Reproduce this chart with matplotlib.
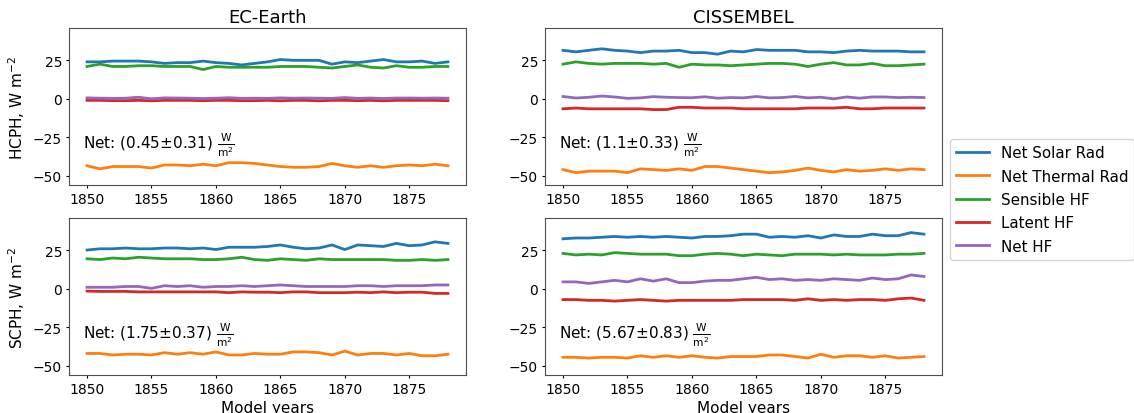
import matplotlib
matplotlib.use("Agg")
import matplotlib.pyplot as plt

years = list(range(1850, 1879))
series_names = ["Net Solar Rad", "Net Thermal Rad", "Sensible HF", "Latent HF", "Net HF"]
models = ["EC-Earth", "CISSEMBEL"]
regions = ["HCPH", "SCPH"]
x_ticks = [1850, 1855, 1860, 1865, 1870, 1875]
y_ticks = [-50, -25, 0, 25]

# EC-Earth, HCPH
ec_hcph_solar = [24, 24, 24.5, 24.5, 24.5, 24, 23, 23.5, 23.5, 24.5, 23.5, 23, 22, 23, 24, 25.5, 25, 25, 25, 22.5, 24, 23.5, 24.5, 25.5, 24, 24, 24.5, 23, 24]
ec_hcph_thermal = [-43.5, -45.5, -44, -44, -44, -45, -43, -43, -43.5, -42.5, -43.5, -41.5, -41.5, -42, -43, -44, -44.5, -44.5, -44, -42, -43.5, -44.5, -43.5, -44.5, -43.5, -43, -43.5, -42.5, -43.5]
ec_hcph_sensible = [21, 22.5, 21, 21, 21.5, 21.5, 21, 21, 21, 19, 21, 20.5, 20.5, 20.5, 20.5, 21, 21, 21, 20.5, 20, 21, 22, 20.5, 20, 21.5, 20.5, 20.5, 21, 21]
ec_hcph_latent = [-1, -1, -1.2, -1.2, -1, -1.3, -1, -1, -1, -1.2, -1, -1, -1.2, -1.2, -1, -1.3, -1, -1, -1.3, -1, -1, -1.2, -1, -1.3, -1, -1, -1, -1, -1.2]
ec_hcph_net = [0.6, 0.4, 0.3, 0.4, 1.0, 0.0, 0.6, 0.5, 0.4, 0.2, 0.4, 0.7, 0.3, 0.4, 0.3, 0.6, 0.4, 0.5, 0.4, 0.3, 0.8, 0.3, 0.5, 0.2, 0.5, 0.5, 0.4, 0.5, 0.4]

# CISSEMBEL, HCPH
ci_hcph_solar = [31.5, 30.5, 31.5, 32.5, 31.5, 31, 30, 31, 31, 31.5, 30, 30, 29, 31, 30.5, 32, 31.5, 31.5, 31.5, 30.5, 30.5, 30, 31, 31.5, 31, 31, 31, 30.5, 30.5]
ci_hcph_thermal = [-46, -48, -47, -47, -47, -48, -45.5, -46, -46.5, -45.5, -46.5, -44, -44, -45, -46, -47, -48, -47.5, -46.5, -45, -46.5, -47.5, -46, -47, -46.5, -45.5, -46.5, -45.5, -46]
ci_hcph_sensible = [22.5, 24, 23, 22.5, 23, 23, 23, 22.5, 23, 20.5, 22.5, 22, 22, 21.5, 22, 22.5, 23, 23, 22.5, 21, 22.5, 23.5, 22, 22, 23, 21.5, 21.5, 22, 22.5]
ci_hcph_latent = [-6.5, -6, -6.5, -6.5, -6.5, -6.5, -6.5, -7, -7, -5.5, -5.5, -6, -6, -6, -6.5, -6.5, -6.5, -6.5, -6.5, -6, -6, -6, -5.5, -6.5, -6.5, -6, -6, -6, -6]
ci_hcph_net = [1.5, 0.5, 1, 1.8, 1.2, 0.3, 0.6, 1.4, 1, 0.8, 0.7, 1.3, 0.4, 0.8, 0.6, 1.5, 0.6, 0.8, 1.5, 0.6, 1, 0, 1.2, 0.4, 1.2, 1.2, 0.8, 1, 0.8]

# EC-Earth, SCPH
ec_scph_solar = [25.2, 26, 26, 26.5, 26, 26, 26.5, 26.5, 26, 26.5, 25.5, 27, 27, 27, 27.5, 28.5, 27, 26, 26.5, 28.5, 25.5, 28.5, 28, 27.5, 29.5, 28, 28.5, 30.5, 29.5]
ec_scph_thermal = [-42, -42, -43, -42.5, -42.5, -43, -41.5, -42.5, -41.5, -42.5, -41, -43, -43, -42, -42.5, -42.5, -41, -41, -41.5, -43, -40.5, -43, -42, -42, -43, -42, -43.5, -43.5, -42.5]
ec_scph_sensible = [19.5, 19, 20, 19.5, 20.5, 20, 19.5, 19.5, 19.5, 19, 19, 19.5, 20.5, 19, 18.5, 19.5, 19, 18.5, 19.5, 19, 19, 19, 19, 19, 18.5, 18.5, 19, 18.5, 19]
ec_scph_latent = [-1.5, -1.7, -1.7, -1.7, -2, -2, -2, -2, -2, -2, -2, -2.5, -2, -2.2, -2.2, -2.5, -2, -2, -2.5, -2.5, -2.5, -2.2, -2.5, -2, -2.5, -2.2, -2.2, -3, -3]
ec_scph_net = [1, 1, 1, 1.5, 1.5, 0.3, 2, 1.5, 2, 1, 1.5, 1.5, 2, 1.5, 2, 2.5, 2, 1.5, 1.5, 1.5, 1.5, 2, 2, 1.5, 2, 2, 2, 2.5, 2.5]

# CISSEMBEL, SCPH
ci_scph_solar = [32.5, 33, 33, 33.5, 34, 33.5, 34, 33.5, 34, 33.5, 33, 34, 34, 34.5, 35.5, 35.5, 33.5, 34, 33.5, 34.5, 33, 35, 34, 34, 35.5, 34.5, 34.5, 36.5, 35.5]
ci_scph_thermal = [-44.5, -44.5, -45, -44.5, -44.5, -45, -43.5, -44.5, -43.5, -44.5, -43.5, -44.5, -45, -44, -44, -44, -43, -43, -44, -45, -42.5, -44.5, -43.5, -43.5, -44.5, -43.5, -45, -44.5, -44]
ci_scph_sensible = [23, 22, 22.5, 22, 23.5, 23, 22.5, 22.5, 22.5, 21.5, 21.5, 22.5, 23, 22.5, 21.5, 22.5, 22, 21.5, 22.5, 22.5, 22.5, 22, 22.5, 22, 22, 22, 22.5, 22.5, 23]
ci_scph_latent = [-7, -7, -7.5, -7.5, -8, -7.5, -7, -7.5, -8, -7.5, -7.5, -7.5, -7.5, -7.5, -7, -7, -7, -7, -7.5, -6.5, -7.5, -7, -7.5, -7, -7, -7.5, -6.5, -6, -7.5]
ci_scph_net = [4.5, 4.5, 3.5, 4.5, 5.5, 4.5, 6.5, 5, 6.5, 4, 4, 5, 5.5, 5.5, 6.5, 7.5, 6, 6.5, 5.5, 6, 5.5, 6.5, 6, 5.5, 7, 6, 6.5, 9, 8]

net_means = [["0.45", "1.1"], ["1.75", "5.67"]]
net_stds = [["0.31", "0.33"], ["0.37", "0.83"]]

panels = [
    [[ec_hcph_solar, ec_hcph_thermal, ec_hcph_sensible, ec_hcph_latent, ec_hcph_net],
     [ci_hcph_solar, ci_hcph_thermal, ci_hcph_sensible, ci_hcph_latent, ci_hcph_net]],
    [[ec_scph_solar, ec_scph_thermal, ec_scph_sensible, ec_scph_latent, ec_scph_net],
     [ci_scph_solar, ci_scph_thermal, ci_scph_sensible, ci_scph_latent, ci_scph_net]],
]
colors = ["#1f77b4", "#ff7f0e", "#2ca02c", "#d62728", "#9467bd"]

fig = plt.figure(figsize=(11.34, 4.14), dpi=100)
lefts = [69 / 1134, 545 / 1134]
width = 397 / 1134
bottoms = [1 - 186 / 414, 1 - 376 / 414]
height = 157 / 414

handles = []
for r in range(2):
    for c in range(2):
        ax = fig.add_axes([lefts[c], bottoms[r], width, height])
        for k in range(5):
            ln, = ax.plot(years, panels[r][c][k], color=colors[k], lw=2, label=series_names[k])
            if r == 0 and c == 0:
                handles.append(ln)
        ax.set_ylim(-56, 46)
        ax.set_yticks(y_ticks)
        ax.set_xticks(x_ticks)
        ax.tick_params(labelsize=10, length=2.5, pad=2.5)
        for sp in ax.spines.values():
            sp.set_edgecolor("0.3")
        if r == 0:
            ax.set_title(models[c], fontsize=13, pad=4)
        else:
            ax.set_xlabel("Model years", fontsize=11, labelpad=2.9)
        if c == 0:
            ax.set_ylabel(regions[r] + r", W m$^{-2}$", fontsize=11)
        ax.text(0.035, 0.261,
                "Net: (" + net_means[r][c] + r"$\pm$" + net_stds[r][c] + r") $\frac{\mathrm{W}}{\mathrm{m}^2}$",
                transform=ax.transAxes, fontsize=11, va="center", ha="left")

fig.legend(handles=handles, loc="center left", bbox_to_anchor=(950 / 1134, 1 - 200.5 / 414),
           borderaxespad=0, fontsize=10.9, labelspacing=0.55, handlelength=2.15)
fig.savefig("out.png", dpi=100)
